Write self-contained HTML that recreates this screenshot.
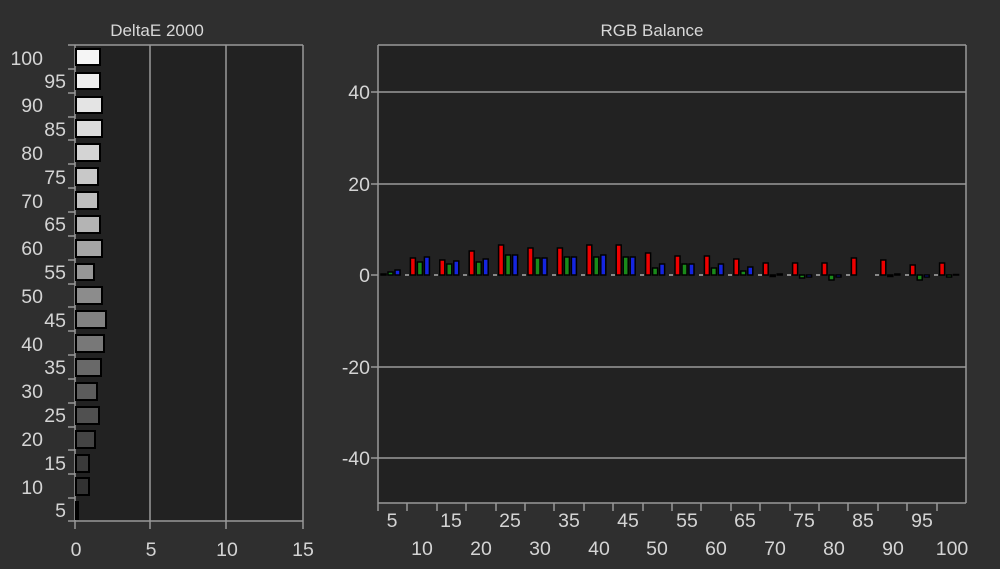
<!DOCTYPE html>
<html><head><meta charset="utf-8"><style>
html,body{margin:0;padding:0;background:#2f2f2f;}
svg{display:block;font-family:"Liberation Sans",sans-serif;}
</style></head><body>
<svg width="1000" height="569" viewBox="0 0 1000 569">
<rect width="1000" height="569" fill="#2f2f2f"/>
<text x="157" y="36" fill="#d8d8d8" font-size="17" text-anchor="middle">DeltaE 2000</text>
<text x="652" y="36" fill="#d8d8d8" font-size="17" text-anchor="middle">RGB Balance</text>
<rect x="75" y="45" width="228" height="476" fill="#222"/>
<g stroke="#999" stroke-width="1.5">
<line x1="150" y1="45" x2="150" y2="521"/><line x1="226" y1="45" x2="226" y2="521"/>
<line x1="303" y1="45" x2="303" y2="529"/><line x1="68" y1="45" x2="303" y2="45"/>
<line x1="75" y1="45" x2="75" y2="529"/><line x1="68" y1="521" x2="303" y2="521"/>
<line x1="68" y1="69" x2="75" y2="69"/><line x1="68" y1="93" x2="75" y2="93"/><line x1="68" y1="117" x2="75" y2="117"/><line x1="68" y1="140" x2="75" y2="140"/><line x1="68" y1="164" x2="75" y2="164"/><line x1="68" y1="188" x2="75" y2="188"/><line x1="68" y1="212" x2="75" y2="212"/><line x1="68" y1="236" x2="75" y2="236"/><line x1="68" y1="260" x2="75" y2="260"/><line x1="68" y1="284" x2="75" y2="284"/><line x1="68" y1="307" x2="75" y2="307"/><line x1="68" y1="331" x2="75" y2="331"/><line x1="68" y1="355" x2="75" y2="355"/><line x1="68" y1="379" x2="75" y2="379"/><line x1="68" y1="403" x2="75" y2="403"/><line x1="68" y1="427" x2="75" y2="427"/><line x1="68" y1="450" x2="75" y2="450"/><line x1="68" y1="474" x2="75" y2="474"/><line x1="68" y1="498" x2="75" y2="498"/>
<line x1="150" y1="521" x2="150" y2="529"/><line x1="226" y1="521" x2="226" y2="529"/>
</g>
<g stroke="#000" stroke-width="2">
<rect x="76" y="49" width="24" height="16" fill="#f5f5f5"/>
<rect x="76" y="73" width="24" height="16" fill="#eeeeee"/>
<rect x="76" y="97" width="26" height="16" fill="#e4e4e4"/>
<rect x="76" y="120" width="26" height="17" fill="#dcdcdc"/>
<rect x="76" y="144" width="24" height="17" fill="#d4d4d4"/>
<rect x="76" y="168" width="22" height="17" fill="#c8c8c8"/>
<rect x="76" y="192" width="22" height="17" fill="#bebebe"/>
<rect x="76" y="216" width="24" height="17" fill="#b4b4b4"/>
<rect x="76" y="240" width="26" height="17" fill="#a5a5a5"/>
<rect x="76" y="264" width="18" height="16" fill="#969696"/>
<rect x="76" y="287" width="26" height="17" fill="#8c8c8c"/>
<rect x="76" y="311" width="30" height="17" fill="#828282"/>
<rect x="76" y="335" width="28" height="17" fill="#787878"/>
<rect x="76" y="359" width="25" height="17" fill="#696969"/>
<rect x="76" y="383" width="21" height="17" fill="#5c5c5c"/>
<rect x="76" y="407" width="23" height="17" fill="#505050"/>
<rect x="76" y="431" width="19" height="17" fill="#444"/>
<rect x="76" y="455" width="13" height="17" fill="#3a3a3a"/>
<rect x="76" y="478" width="13" height="17" fill="#323232"/>
<rect x="76" y="502" width="2" height="17" fill="#2d2d2d"/>
</g>
<g fill="#d4d4d4" font-size="19.5" text-anchor="end">
<text x="43" y="65">100</text><text x="66" y="88">95</text><text x="43" y="112">90</text><text x="66" y="136">85</text><text x="43" y="160">80</text><text x="66" y="184">75</text><text x="43" y="208">70</text><text x="66" y="231">65</text><text x="43" y="255">60</text><text x="66" y="279">55</text><text x="43" y="303">50</text><text x="66" y="327">45</text><text x="43" y="351">40</text><text x="66" y="374">35</text><text x="43" y="398">30</text><text x="66" y="422">25</text><text x="43" y="446">20</text><text x="66" y="470">15</text><text x="43" y="494">10</text><text x="66" y="517">5</text>
</g>
<g fill="#d4d4d4" font-size="19.5" text-anchor="middle">
<text x="76" y="556">0</text><text x="151" y="556">5</text><text x="227" y="556">10</text><text x="303" y="556">15</text>
</g>
<rect x="378" y="45" width="588" height="458" fill="#222"/>
<g stroke="#999" stroke-width="1.5">
<line x1="378" y1="45" x2="966" y2="45"/><line x1="966" y1="45" x2="966" y2="503"/>
<line x1="378" y1="45" x2="378" y2="511"/><line x1="378" y1="503" x2="966" y2="503"/>
<line x1="371" y1="92" x2="966" y2="92"/><line x1="371" y1="184" x2="966" y2="184"/>
<line x1="371" y1="275" x2="378" y2="275"/><line x1="371" y1="367" x2="966" y2="367"/><line x1="371" y1="458" x2="966" y2="458"/>
<line x1="407" y1="503" x2="407" y2="511"/><line x1="437" y1="503" x2="437" y2="511"/><line x1="466" y1="503" x2="466" y2="511"/><line x1="496" y1="503" x2="496" y2="511"/><line x1="525" y1="503" x2="525" y2="511"/><line x1="554" y1="503" x2="554" y2="511"/><line x1="584" y1="503" x2="584" y2="511"/><line x1="613" y1="503" x2="613" y2="511"/><line x1="643" y1="503" x2="643" y2="511"/><line x1="672" y1="503" x2="672" y2="511"/><line x1="701" y1="503" x2="701" y2="511"/><line x1="731" y1="503" x2="731" y2="511"/><line x1="760" y1="503" x2="760" y2="511"/><line x1="790" y1="503" x2="790" y2="511"/><line x1="819" y1="503" x2="819" y2="511"/><line x1="848" y1="503" x2="848" y2="511"/><line x1="878" y1="503" x2="878" y2="511"/><line x1="907" y1="503" x2="907" y2="511"/><line x1="937" y1="503" x2="937" y2="511"/>
</g>
<g fill="#d4d4d4" font-size="19.5" text-anchor="end">
<text x="370" y="99">40</text><text x="370" y="191">20</text><text x="370" y="282">0</text><text x="370" y="374">-20</text><text x="370" y="465">-40</text>
</g>
<g fill="#d4d4d4" font-size="19.5" text-anchor="middle">
<text x="392" y="527">5</text><text x="451" y="527">15</text><text x="510" y="527">25</text><text x="569" y="527">35</text><text x="628" y="527">45</text><text x="687" y="527">55</text><text x="745" y="527">65</text><text x="804" y="527">75</text><text x="863" y="527">85</text><text x="922" y="527">95</text>
<text x="422" y="555">10</text><text x="481" y="555">20</text><text x="540" y="555">30</text><text x="599" y="555">40</text><text x="657" y="555">50</text><text x="716" y="555">60</text><text x="775" y="555">70</text><text x="834" y="555">80</text><text x="893" y="555">90</text><text x="952" y="555">100</text>
</g>
<g fill="#888">
<rect x="405" y="274" width="4" height="2"/><rect x="434" y="274" width="4" height="2"/><rect x="463" y="274" width="4" height="2"/><rect x="493" y="274" width="4" height="2"/><rect x="522" y="274" width="4" height="2"/><rect x="552" y="274" width="4" height="2"/><rect x="581" y="274" width="4" height="2"/><rect x="611" y="274" width="4" height="2"/><rect x="640" y="274" width="4" height="2"/><rect x="669" y="274" width="4" height="2"/><rect x="699" y="274" width="4" height="2"/><rect x="728" y="274" width="4" height="2"/><rect x="758" y="274" width="4" height="2"/><rect x="787" y="274" width="4" height="2"/><rect x="816" y="274" width="4" height="2"/><rect x="846" y="274" width="4" height="2"/><rect x="875" y="274" width="4" height="2"/><rect x="905" y="274" width="4" height="2"/><rect x="934" y="274" width="4" height="2"/>
</g>
<g stroke="#000" stroke-width="1.5">
<g transform="translate(378,0)"><rect x="3" y="274" width="5" height="1" fill="#e00"/><rect x="10" y="272" width="5" height="3" fill="#1a8a1a"/><rect x="17" y="270" width="5" height="5" fill="#1525e0"/></g>
<g transform="translate(407.4,0)"><rect x="3" y="258" width="5" height="17" fill="#e00"/><rect x="10" y="262" width="5" height="13" fill="#1a8a1a"/><rect x="17" y="257" width="5" height="18" fill="#1525e0"/></g>
<g transform="translate(436.8,0)"><rect x="3" y="260" width="5" height="15" fill="#e00"/><rect x="10" y="264" width="5" height="11" fill="#1a8a1a"/><rect x="17" y="261" width="5" height="14" fill="#1525e0"/></g>
<g transform="translate(466.2,0)"><rect x="3" y="251" width="5" height="24" fill="#e00"/><rect x="10" y="262" width="5" height="13" fill="#1a8a1a"/><rect x="17" y="259" width="5" height="16" fill="#1525e0"/></g>
<g transform="translate(495.6,0)"><rect x="3" y="245" width="5" height="30" fill="#e00"/><rect x="10" y="255" width="5" height="20" fill="#1a8a1a"/><rect x="17" y="255" width="5" height="20" fill="#1525e0"/></g>
<g transform="translate(525,0)"><rect x="3" y="248" width="5" height="27" fill="#e00"/><rect x="10" y="258" width="5" height="17" fill="#1a8a1a"/><rect x="17" y="258" width="5" height="17" fill="#1525e0"/></g>
<g transform="translate(554.4,0)"><rect x="3" y="248" width="5" height="27" fill="#e00"/><rect x="10" y="257" width="5" height="18" fill="#1a8a1a"/><rect x="17" y="257" width="5" height="18" fill="#1525e0"/></g>
<g transform="translate(583.8,0)"><rect x="3" y="245" width="5" height="30" fill="#e00"/><rect x="10" y="257" width="5" height="18" fill="#1a8a1a"/><rect x="17" y="255" width="5" height="20" fill="#1525e0"/></g>
<g transform="translate(613.2,0)"><rect x="3" y="245" width="5" height="30" fill="#e00"/><rect x="10" y="257" width="5" height="18" fill="#1a8a1a"/><rect x="17" y="257" width="5" height="18" fill="#1525e0"/></g>
<g transform="translate(642.6,0)"><rect x="3" y="253" width="5" height="22" fill="#e00"/><rect x="10" y="268" width="5" height="7" fill="#1a8a1a"/><rect x="17" y="264" width="5" height="11" fill="#1525e0"/></g>
<g transform="translate(672,0)"><rect x="3" y="256" width="5" height="19" fill="#e00"/><rect x="10" y="264" width="5" height="11" fill="#1a8a1a"/><rect x="17" y="264" width="5" height="11" fill="#1525e0"/></g>
<g transform="translate(701.4,0)"><rect x="3" y="256" width="5" height="19" fill="#e00"/><rect x="10" y="268" width="5" height="7" fill="#1a8a1a"/><rect x="17" y="264" width="5" height="11" fill="#1525e0"/></g>
<g transform="translate(730.8,0)"><rect x="3" y="259" width="5" height="16" fill="#e00"/><rect x="10" y="271" width="5" height="4" fill="#1a8a1a"/><rect x="17" y="267" width="5" height="8" fill="#1525e0"/></g>
<g transform="translate(760.2,0)"><rect x="3" y="263" width="5" height="12" fill="#e00"/><rect x="10" y="275" width="5" height="1.5" fill="#1a8a1a"/><rect x="17" y="274" width="5" height="1" fill="#1525e0"/></g>
<g transform="translate(789.6,0)"><rect x="3" y="263" width="5" height="12" fill="#e00"/><rect x="10" y="275" width="5" height="3" fill="#1a8a1a"/><rect x="17" y="275" width="5" height="2" fill="#1525e0"/></g>
<g transform="translate(819,0)"><rect x="3" y="263" width="5" height="12" fill="#e00"/><rect x="10" y="275" width="5" height="5" fill="#1a8a1a"/><rect x="17" y="275" width="5" height="2" fill="#1525e0"/></g>
<g transform="translate(848.4,0)"><rect x="3" y="258" width="5" height="17" fill="#e00"/></g>
<g transform="translate(877.8,0)"><rect x="3" y="260" width="5" height="15" fill="#e00"/><rect x="10" y="275" width="5" height="1.5" fill="#1a8a1a"/><rect x="17" y="274" width="5" height="1" fill="#1525e0"/></g>
<g transform="translate(907.2,0)"><rect x="3" y="265" width="5" height="10" fill="#e00"/><rect x="10" y="275" width="5" height="5" fill="#1a8a1a"/><rect x="17" y="275" width="5" height="2" fill="#1525e0"/></g>
<g transform="translate(936.6,0)"><rect x="3" y="263" width="5" height="12" fill="#e00"/><rect x="10" y="275" width="5" height="2" fill="#1a8a1a"/><rect x="17" y="274.5" width="5" height="0.5" fill="#1525e0"/></g>
</g>
</svg>
</body></html>
